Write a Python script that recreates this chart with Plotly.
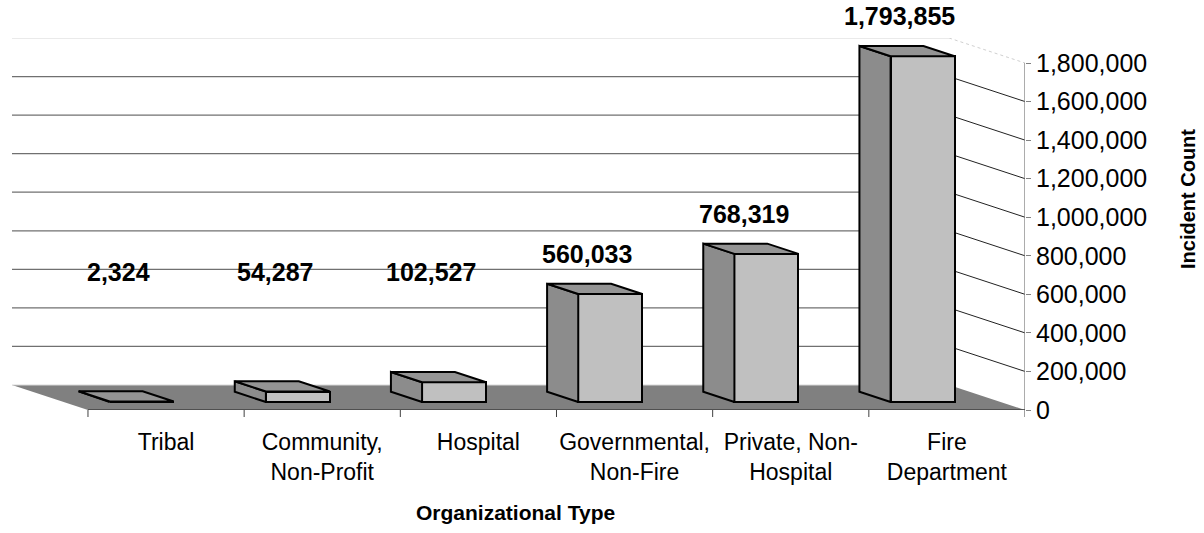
import plotly.graph_objects as go

# ---------------- data ----------------
categories = ["Tribal", "Community,<br>Non-Profit", "Hospital",
              "Governmental,<br>Non-Fire", "Private, Non-<br>Hospital", "Fire<br>Department"]
values = [2324, 54287, 102527, 560033, 768319, 1793855]
y_ticks = [0, 200000, 400000, 600000, 800000, 1000000, 1200000, 1400000, 1600000, 1800000]
x_title = "Organizational Type"
y_title = "Incident Count"

# ---------------- 3-D geometry (oblique projection) ----------------
PX_PER_CAT = 156.2
PX_PER_UNIT = 38.56 / 200000
DX = 76 / PX_PER_CAT          # depth shift in category units
DY = 25 / PX_PER_UNIT         # depth shift in value units
F1, F2 = 0.32, 0.73           # bar front / back depth fractions
W = 0.41                      # bar width (category units)
YMAX = y_ticks[-1]
YTOP = YMAX + DY
n = len(values)
xs = list(range(n))
X0, X1 = -0.5, n - 0.5

FONT = "Liberation Sans, Arial, sans-serif"

fig = go.Figure()

# side and top faces of the bars, built from the values
side_x, side_y, top_x, top_y = [], [], [], []
for i, v in zip(xs, values):
    xl, xr = i - W / 2, i + W / 2
    side_x += [xl - F1 * DX, xl - F2 * DX, xl - F2 * DX, xl - F1 * DX, xl - F1 * DX, None]
    side_y += [F1 * DY, F2 * DY, v + F2 * DY, v + F1 * DY, F1 * DY, None]
    top_x += [xl - F1 * DX, xl - F2 * DX, xr - F2 * DX, xr - F1 * DX, xl - F1 * DX, None]
    top_y += [v + F1 * DY, v + F2 * DY, v + F2 * DY, v + F1 * DY, v + F1 * DY, None]

fig.add_trace(go.Scatter(x=side_x, y=side_y, mode="lines", fill="toself",
                         fillcolor="#8C8C8C", line=dict(color="black", width=2),
                         hoverinfo="skip", showlegend=False))
fig.add_trace(go.Scatter(x=top_x, y=top_y, mode="lines", fill="toself",
                         fillcolor="#949494", line=dict(color="black", width=2),
                         hoverinfo="skip", showlegend=False))

# front faces of the bars
fig.add_trace(go.Bar(x=[i - F1 * DX for i in xs], y=values, base=F1 * DY, width=W,
                     marker=dict(color="#C0C0C0", line=dict(color="black", width=2)),
                     hoverinfo="skip", showlegend=False))

shapes = []
# floor
shapes.append(dict(type="path", layer="below", xref="x", yref="y",
                   path=f"M {X0},0 L {X1},0 L {X1 - DX},{DY} L {X0 - DX},{DY} Z",
                   fillcolor="#808080", line=dict(width=0)))
# back-wall floor edge
shapes.append(dict(type="line", layer="below", xref="x", yref="y",
                   x0=X0 - DX, y0=DY, x1=X1 - DX, y1=DY,
                   line=dict(color="#D8D8D8", width=1)))
# back-wall gridlines + side-wall diagonals
for t in y_ticks[1:]:
    top = (t == YMAX)
    hcol = "#E3E3E3" if top else "#707070"
    dcol = "#D0D0D0" if top else "#222222"
    shapes.append(dict(type="line", layer="below", xref="x", yref="y",
                       x0=X0 - DX, y0=t + DY, x1=X1 - DX, y1=t + DY,
                       line=dict(color=hcol, width=1.3)))
    shapes.append(dict(type="line", layer="below", xref="x", yref="y",
                       x0=X1 - DX, y0=t + DY, x1=X1, y1=t,
                       line=dict(color=dcol, width=1, dash="dot" if top else "solid")))
# value axis line
shapes.append(dict(type="line", xref="x", yref="y", x0=X1, y0=0, x1=X1, y1=YMAX,
                   line=dict(color="#808080", width=1.3)))
# category axis line + boundary ticks
shapes.append(dict(type="line", xref="x", yref="y", x0=X0, y0=0, x1=X1, y1=0,
                   line=dict(color="#404040", width=1.3)))
PLOT_H = 372
for k in range(n + 1):
    shapes.append(dict(type="line", xref="x", yref="paper", x0=X0 + k, x1=X0 + k,
                       y0=0, y1=-7 / PLOT_H, line=dict(color="#404040", width=1)))

# data labels (y in paper units so labels above the axis range stay visible)
LABEL_FLOOR = 466000
LABEL_GAP = 250000
annotations = []
for i, v in zip(xs, values):
    annotations.append(dict(x=i - 0.62 * DX, y=(max(v, LABEL_FLOOR) + LABEL_GAP) / YTOP,
                            xref="x", yref="paper", text=f"<b>{v:,}</b>", showarrow=False,
                            font=dict(family=FONT, size=25, color="black"),
                            xanchor="center", yanchor="middle"))
# axis titles
annotations.append(dict(x=(515 - 12) / 1013, y=(410 - 512) / PLOT_H, xref="paper", yref="paper",
                        text=f"<b>{x_title}</b>", showarrow=False,
                        font=dict(family=FONT, size=21, color="black"),
                        xanchor="center", yanchor="middle"))
annotations.append(dict(x=(1188 - 12) / 1013, y=(410 - 199) / PLOT_H, xref="paper", yref="paper",
                        text=f"<b>{y_title}</b>", showarrow=False, textangle=-90,
                        font=dict(family=FONT, size=20, color="black"),
                        xanchor="center", yanchor="middle"))

fig.update_layout(
    width=1204, height=533,
    margin=dict(l=12, r=179, t=38, b=123),
    paper_bgcolor="white", plot_bgcolor="white",
    shapes=shapes, annotations=annotations,
    bargap=0,
    xaxis=dict(range=[X0 - DX, X1], tickvals=xs, ticktext=categories,
               showgrid=False, zeroline=False, showline=False,
               ticks="outside", ticklen=11, tickcolor="rgba(0,0,0,0)",
               tickfont=dict(family=FONT, size=23, color="black"), tickangle=0),
    yaxis=dict(range=[0, YTOP], side="right", tickvals=y_ticks,
               tickformat=",", showgrid=False, zeroline=False, showline=False,
               ticks="outside", ticklen=5, tickcolor="#808080",
               tickfont=dict(family=FONT, size=25, color="black")),
)

fig.write_html("out.html", config={"displayModeBar": False},
               post_script="document.body.style.margin='0';document.body.style.overflow='hidden';")
